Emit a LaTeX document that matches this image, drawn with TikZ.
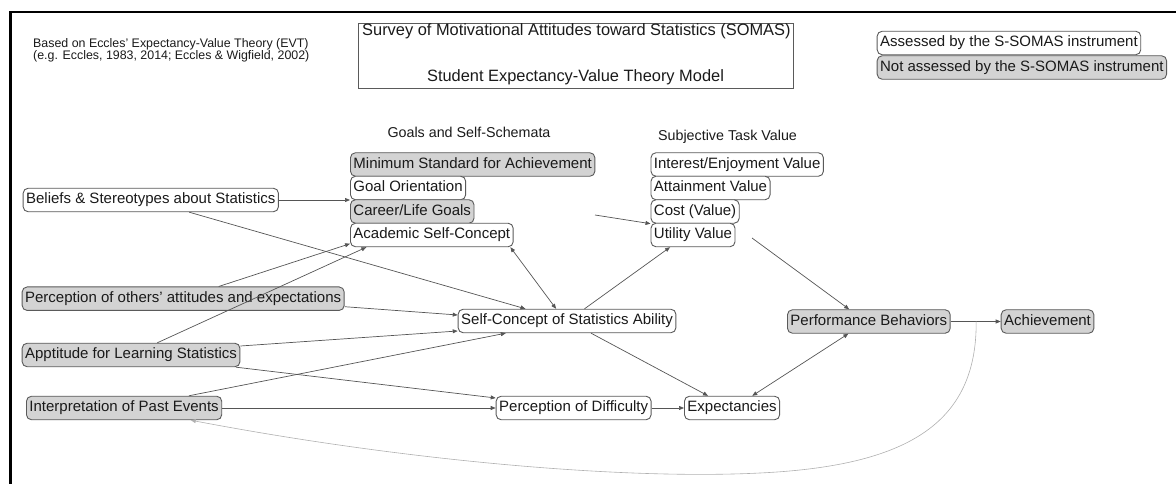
\documentclass[tikz,border=0pt]{standalone}
\usepackage{fontspec}
\setmainfont{Liberation Sans}
\usetikzlibrary{arrows.meta,calc}
\definecolor{edgec}{HTML}{555555}
\definecolor{boxc}{HTML}{5A5A5A}
\definecolor{fillg}{HTML}{D3D3D3}
\definecolor{txt}{HTML}{1A1A1A}
\definecolor{fbc}{HTML}{B0B0B0}
\tikzset{
  nbox/.style={draw=boxc, line width=0.9bp, rounded corners=5bp, fill=white, text=txt,
    font=\fontsize{15bp}{18bp}\selectfont, inner xsep=3bp, inner ysep=0bp,
    text height=11bp, text depth=3.5bp, minimum height=23.5bp, anchor=west},
  gbox/.style={nbox, fill=fillg},
  tip/.tip={Triangle[length=5bp,width=4bp]},
  conn/.style={draw=edgec, line width=0.7bp, -tip},
  bconn/.style={draw=edgec, line width=0.7bp, tip-tip},
  fbconn/.style={draw=fbc, line width=0.6bp, -tip},
  glabel/.style={font=\fontsize{14.3bp}{17bp}\selectfont, text=txt, anchor=base, inner sep=0pt},
  ttl/.style={font=\fontsize{16.4bp}{19bp}\selectfont, text=txt, inner sep=0pt},
  note/.style={font=\fontsize{12.4bp}{12.4bp}\selectfont, text=txt, inner sep=0pt, anchor=base west},
}
\begin{document}
\begin{tikzpicture}[x=1bp,y=-1bp]
\useasboundingbox (0,0) rectangle (1176,484);
% frame lines
\draw[line width=2.2bp, black] (10.5,490) -- (10.5,12) -- (1180,12);

% header texts
\node[note] (n1) at (33,47.7) {Based on Eccles' Expectancy-Value Theory (EVT)};
\node[note] (n2) at (33,60) {(e.g. Eccles, 1983, 2014; Eccles \& Wigfield, 2002)};
\node[draw=boxc, line width=0.9bp, minimum width=435bp, minimum height=65.6bp, anchor=north west, inner sep=0pt] (T) at (358,22.7) {};
\node[ttl, anchor=base west] (T1) at (362,36) {Survey of Motivational Attitudes toward Statistics (SOMAS)};
\node[ttl, anchor=base] (T2) at (575.5,81.7) {Student Expectancy-Value Theory Model};

% legend
\node[nbox] (L1) at (876.7,43) {Assessed by the S-SOMAS instrument};
\node[gbox] (L2) at (876.7,67.5) {Not assessed by the S-SOMAS instrument};

% group labels
\node[glabel] (G1) at (469,138) {Goals and Self-Schemata};
\node[glabel] (G2) at (727.5,140.5) {Subjective Task Value};

% goals stack
\node[gbox] (MS) at (350,164.5) {Minimum Standard for Achievement};
\node[nbox] (GO) at (350,188) {Goal Orientation};
\node[gbox] (CL) at (350,211.5) {Career/Life Goals};
\node[nbox] (AC) at (350,235) {Academic Self-Concept};

% value stack
\node[nbox] (IE) at (650.5,164.5) {Interest/Enjoyment Value};
\node[nbox] (AV) at (650.5,188) {Attainment Value};
\node[nbox] (CV) at (650.5,211.5) {Cost (Value)};
\node[nbox] (UV) at (650.5,235) {Utility Value};

% left column
\node[nbox] (B) at (22.7,200) {Beliefs \& Stereotypes about Statistics};
\node[gbox] (O) at (21.7,298.7) {Perception of others' attitudes and expectations};
\node[gbox] (A) at (21.7,355) {Apptitude for Learning Statistics};
\node[gbox] (I) at (26,408) {Interpretation of Past Events};

% middle / right
\node[nbox] (SC) at (457.7,321) {Self-Concept of Statistics Ability};
\node[nbox] (PD) at (495.7,408) {Perception of Difficulty};
\node[nbox] (E) at (684,408) {Expectancies};
\node[gbox] (P) at (787,321.5) {Performance Behaviors};
\node[gbox] (Ach) at (1000.7,321.5) {Achievement};

% free coordinates
\coordinate (g2v) at (595,215);
\coordinate (v2p) at (752,238);
\coordinate (fb) at ($(P.east)!0.51!(Ach.west)$);
\coordinate (fbmid) at (760,473);

% connectors
\draw[conn] (B.east) -- (B.east -| GO.west);
\draw[conn] ($(B.south west)!0.65!(B.south east)$) -- ($(SC.north west)!0.31!(SC.north east)$);
\draw[conn] ($(O.north west)!0.61!(O.north east)$) -- ($(AC.south west)+(0,-3.5)$);
\draw[conn] ($(A.north west)!0.62!(A.north east)$) -- ($(AC.south west)!0.10!(AC.south east)$);
\draw[conn] ($(O.east)+(0,8)$) -- ($(SC.west)+(0,-6)$);
\draw[conn] ($(A.east)+(0,-9)$) -- ($(SC.west)+(0,10)$);
\draw[conn] ($(I.north west)!0.83!(I.north east)$) -- ($(SC.south west)!0.22!(SC.south east)$);
\draw[conn] ($(A.south west)!0.98!(A.south east)$) -- ($(PD.west)+(0,-10)$);
\draw[conn] (I.east) -- (PD.west);
\draw[conn] (PD.east) -- (E.west);
\draw[conn] ($(SC.south west)!0.61!(SC.south east)$) -- ($(E.north west)!0.25!(E.north east)$);
\draw[bconn] ($(P.south west)!0.375!(P.south east)$) -- ($(E.north west)!0.71!(E.north east)$);
\draw[bconn] ($(AC.south west)!0.98!(AC.south east)$) -- ($(SC.north west)!0.45!(SC.north east)$);
\draw[conn] ($(SC.north west)!0.58!(SC.north east)$) -- ($(UV.south west)!0.23!(UV.south east)$);
\draw[conn] (g2v) -- (CV.south west);
\draw[conn] (v2p) -- ($(P.north west)!0.38!(P.north east)$);
\draw[conn] (P.east) -- (Ach.west);
\draw[fbconn] (fb) .. controls (977,425) and (905,466) .. (fbmid) .. controls (620,480) and (400,460) .. ($(I.south west)!0.84!(I.south east)$);
\end{tikzpicture}
\end{document}
